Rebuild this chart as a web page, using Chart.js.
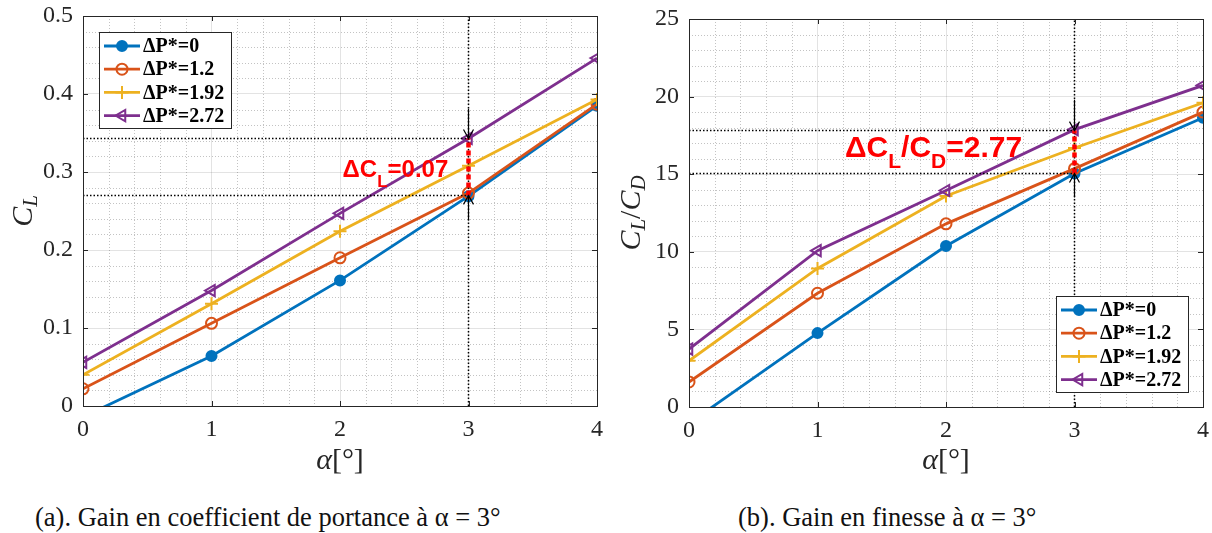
<!DOCTYPE html>
<html>
<head>
<meta charset="utf-8">
<script src="https://cdn.jsdelivr.net/npm/chart.js@4.4.1/dist/chart.umd.min.js"></script>
<style>
  body { margin: 0; background: #fff; width: 1212px; height: 533px; position: relative; overflow: hidden; }
  canvas { position: absolute; top: 0; }
  .caption { position: absolute; top: 502px; font: 26.5px "Liberation Serif", "Times New Roman", serif; color: #111; white-space: nowrap; }
</style>
</head>
<body>
<canvas id="chartCL" width="606" height="480" style="left:0"></canvas>
<canvas id="chartFinesse" width="606" height="480" style="left:606px"></canvas>
<div class="caption" style="left:35px">(a). Gain en coefficient de portance à α = 3°</div>
<div class="caption" style="left:738px">(b). Gain en finesse à α = 3°</div>
<script>
// données
const alpha = [0, 1, 2, 3, 4];
const seriesLabels = ['ΔP*=0', 'ΔP*=1.2', 'ΔP*=1.92', 'ΔP*=2.72'];

// coefficient de portance C_L
const clP0 = [-0.014, 0.064, 0.161, 0.269, 0.385];
const clP12 = [0.022, 0.106, 0.190, 0.273, 0.387];
const clP192 = [0.040, 0.131, 0.224, 0.308, 0.393];
const clP272 = [0.056, 0.148, 0.247, 0.343, 0.446];

// finesse C_L/C_D
const finP0 = [-1.05, 4.76, 10.37, 15.04, 18.64];
const finP12 = [1.61, 7.33, 11.80, 15.36, 19.00];
const finP192 = [2.98, 8.93, 13.60, 16.69, 19.60];
const finP272 = [3.73, 10.07, 13.95, 17.87, 20.72];

// annotations à alpha = 3
const alphaRef = 3;
const clBracket = [0.27, 0.343];
const clArrowFrom = [0.381, 0.238];
const finBracket = [15.04, 17.81];
const finArrowFrom = [19.8, 13.5];

const colors = ['#0072BD', '#D95319', '#EDB120', '#7E2F8E'];
const markers = [
  { pointStyle: 'circle', radius: 5, fill: '#0072BD', rotation: 0 },
  { pointStyle: 'circle', radius: 5.5, fill: 'rgba(255,255,255,0)', rotation: 0 },
  { pointStyle: 'cross', radius: 6.5, fill: 'rgba(255,255,255,0)', rotation: 0 },
  { pointStyle: 'triangle', radius: 6.5, fill: 'rgba(255,255,255,0)', rotation: -90 }
];
const LINE_W = 2.8;
const AXIS = '#262626';
const SERIF = '"Liberation Serif", "Times New Roman", serif';

function pts(ys) {
  return alpha.map((a, i) => ({ x: a, y: ys[i] }));
}

function seg(x0, y0, x1, y1) {
  return [{ x: x0, y: y0 }, { x: x1, y: y1 }];
}

function drawRich(ctx, x, y, parts) {
  let cx = x;
  parts.forEach(p => {
    ctx.font = p.f;
    ctx.fillText(p.t, cx, y + (p.dy || 0));
    cx += ctx.measureText(p.t).width;
  });
  return cx - x;
}

function richWidth(ctx, parts) {
  let w = 0;
  parts.forEach(p => { ctx.font = p.f; w += ctx.measureText(p.t).width; });
  return w;
}

function drawMarker(ctx, m, x, y, color) {
  ctx.save();
  ctx.strokeStyle = color;
  ctx.fillStyle = m.fill;
  ctx.lineWidth = 2;
  ctx.beginPath();
  if (m.pointStyle === 'circle') {
    ctx.arc(x, y, m.radius, 0, Math.PI * 2);
    ctx.fill();
    ctx.stroke();
  } else if (m.pointStyle === 'cross') {
    ctx.moveTo(x - m.radius, y); ctx.lineTo(x + m.radius, y);
    ctx.moveTo(x, y - m.radius); ctx.lineTo(x, y + m.radius);
    ctx.stroke();
  } else {
    const r = m.radius;
    ctx.moveTo(x - r, y);
    ctx.lineTo(x + r * 0.5, y - r * 0.87);
    ctx.lineTo(x + r * 0.5, y + r * 0.87);
    ctx.closePath();
    ctx.stroke();
  }
  ctx.restore();
}

function makeChart(id, series, cfg) {
  const datasets = series.map((ys, i) => ({
    label: seriesLabels[i],
    data: pts(ys),
    borderColor: colors[i],
    borderWidth: LINE_W,
    pointStyle: markers[i].pointStyle,
    pointRadius: markers[i].radius,
    pointRotation: markers[i].rotation,
    pointBackgroundColor: markers[i].fill,
    pointBorderColor: colors[i],
    pointBorderWidth: 2,
    order: 10 - i,
    tension: 0
  }));

  const [lo, hi] = cfg.bracket;
  const dotted = { borderColor: '#000', borderWidth: 1.5, borderDash: [1.5, 2], pointRadius: 0, order: 1 };
  datasets.push({ ...dotted, label: 'hlo', data: seg(0, lo, alphaRef, lo) });
  datasets.push({ ...dotted, label: 'hhi', data: seg(0, hi, alphaRef, hi) });
  datasets.push({ ...dotted, label: 'vref', data: seg(alphaRef, cfg.yMin, alphaRef, cfg.yMax) });
  datasets.push({ label: 'delta', data: seg(alphaRef, lo, alphaRef, hi), borderColor: '#FF0000', borderWidth: 4.5, borderDash: [5, 3], pointRadius: 0, order: 0 });
  const arrowStart = datasets.length;
  datasets.push({ label: 'arrDown', data: seg(alphaRef, cfg.arrowFrom[0], alphaRef, hi), borderColor: '#000', borderWidth: 1.2, pointRadius: 0, order: 0 });
  datasets.push({ label: 'arrUp', data: seg(alphaRef, cfg.arrowFrom[1], alphaRef, lo), borderColor: '#000', borderWidth: 1.2, pointRadius: 0, order: 0 });

  const decor = {
    id: 'matlabDecor',
    beforeDatasetsDraw(chart) {
      const { ctx, chartArea: a, scales: { x, y } } = chart;
      ctx.save();
      ctx.strokeStyle = 'rgba(38,38,38,0.28)';
      ctx.lineWidth = 1;
      ctx.setLineDash([1, 2]);
      ctx.beginPath();
      for (let k = 1; k < 20; k++) {
        if (k % 5 === 0) continue;
        const px = Math.round(x.getPixelForValue(k * 0.2)) + 0.5;
        ctx.moveTo(px, a.top); ctx.lineTo(px, a.bottom);
      }
      const n = Math.round((cfg.yMax - cfg.yMin) / cfg.yMinor);
      const per = Math.round(cfg.yStep / cfg.yMinor);
      for (let k = 1; k < n; k++) {
        if (k % per === 0) continue;
        const py = Math.round(y.getPixelForValue(cfg.yMin + k * cfg.yMinor)) + 0.5;
        ctx.moveTo(a.left, py); ctx.lineTo(a.right, py);
      }
      ctx.stroke();
      ctx.restore();
    },
    afterDatasetsDraw(chart) {
      const { ctx, chartArea: a, scales: { x, y } } = chart;
      ctx.save();
      // cadre et graduations vers l'intérieur
      ctx.strokeStyle = AXIS;
      ctx.lineWidth = 1;
      ctx.setLineDash([]);
      ctx.strokeRect(Math.round(a.left) + 0.5, Math.round(a.top) + 0.5, Math.round(a.right - a.left), Math.round(a.bottom - a.top));
      ctx.beginPath();
      x.ticks.forEach(t => {
        const px = Math.round(x.getPixelForValue(t.value)) + 0.5;
        ctx.moveTo(px, a.bottom); ctx.lineTo(px, a.bottom - 5);
        ctx.moveTo(px, a.top); ctx.lineTo(px, a.top + 5);
      });
      y.ticks.forEach(t => {
        const py = Math.round(y.getPixelForValue(t.value)) + 0.5;
        ctx.moveTo(a.left, py); ctx.lineTo(a.left + 5, py);
        ctx.moveTo(a.right, py); ctx.lineTo(a.right - 5, py);
      });
      ctx.stroke();

      // pointes de flèches
      ctx.strokeStyle = '#000';
      ctx.lineWidth = 1.2;
      [arrowStart, arrowStart + 1].forEach(di => {
        const p = chart.getDatasetMeta(di).data;
        const dir = Math.sign(p[1].y - p[0].y);
        ctx.beginPath();
        ctx.moveTo(p[1].x - 5, p[1].y - dir * 9);
        ctx.lineTo(p[1].x, p[1].y);
        ctx.lineTo(p[1].x + 5, p[1].y - dir * 9);
        ctx.stroke();
      });

      // texte de l'écart
      ctx.fillStyle = '#FF0000';
      ctx.textBaseline = 'alphabetic';
      ctx.textAlign = 'left';
      drawRich(ctx, x.getPixelForValue(cfg.note.x), y.getPixelForValue(cfg.note.y), cfg.note.parts);

      // légende
      const lw = 132, lh = 96, rowH = 23.2;
      const lx = cfg.legendCorner === 'nw' ? a.left + 16 : a.right - 15 - lw;
      const ly = cfg.legendCorner === 'nw' ? a.top + 16 : a.bottom - 15 - lh;
      ctx.fillStyle = '#fff';
      ctx.fillRect(lx, ly, lw, lh);
      ctx.strokeStyle = AXIS;
      ctx.lineWidth = 1;
      ctx.strokeRect(Math.round(lx) + 0.5, Math.round(ly) + 0.5, lw, lh);
      seriesLabels.forEach((lab, i) => {
        const cy = ly + 14 + i * rowH;
        ctx.strokeStyle = colors[i];
        ctx.lineWidth = LINE_W;
        ctx.beginPath();
        ctx.moveTo(lx + 5, cy); ctx.lineTo(lx + 41, cy);
        ctx.stroke();
        drawMarker(ctx, markers[i], lx + 23, cy, colors[i]);
        ctx.fillStyle = '#000';
        ctx.font = 'bold 20px ' + SERIF;
        ctx.textBaseline = 'middle';
        ctx.fillText(lab, lx + 44, cy + 1);
      });

      // titres des axes
      ctx.fillStyle = '#262626';
      ctx.textBaseline = 'alphabetic';
      const xParts = [
        { t: 'α', f: 'italic 30px ' + SERIF },
        { t: '[°]', f: '30px ' + SERIF }
      ];
      const cxm = (a.left + a.right) / 2;
      drawRich(ctx, cxm - richWidth(ctx, xParts) / 2, 469, xParts);
      const cym = (a.top + a.bottom) / 2;
      ctx.translate(cfg.yTitleX, cym);
      ctx.rotate(-Math.PI / 2);
      drawRich(ctx, -richWidth(ctx, cfg.yTitle) / 2, 0, cfg.yTitle);
      ctx.restore();
    }
  };

  // graduations extérieures invisibles : elles écartent les libellés sans gonfler la marge
  const gridOpts = { color: 'rgba(38,38,38,0.13)', drawTicks: true, tickColor: 'rgba(0,0,0,0)' };

  return new Chart(document.getElementById(id), {
    type: 'line',
    data: { datasets },
    options: {
      responsive: false,
      animation: false,
      devicePixelRatio: 1,
      layout: { padding: { left: 0, right: 9, top: cfg.top, bottom: 0 } },
      plugins: { legend: { display: false }, tooltip: { enabled: false } },
      scales: {
        x: {
          type: 'linear', min: 0, max: 4,
          ticks: { stepSize: 1, padding: 0, color: AXIS, font: { family: SERIF, size: 24 } },
          grid: { ...gridOpts, tickLength: 9 },
          border: { display: false },
          afterFit(s) { s.height = cfg.xHeight; }
        },
        y: {
          min: cfg.yMin, max: cfg.yMax,
          ticks: { stepSize: cfg.yStep, padding: 0, color: AXIS, font: { family: SERIF, size: 24 }, callback: cfg.fmt },
          grid: { ...gridOpts, tickLength: 10 },
          border: { display: false },
          afterFit(s) { s.width = 83; }
        }
      }
    },
    plugins: [decor]
  });
}

const SANS = '"Liberation Sans", Arial, sans-serif';
const SANS24 = 'bold 24px ' + SANS;
const SUB24 = 'bold 17px ' + SANS;
const SANS30 = 'bold 30px ' + SANS;
const SUB30 = 'bold 21px ' + SANS;

makeChart('chartCL', [clP0, clP12, clP192, clP272], {
  yMin: 0, yMax: 0.5, yStep: 0.1, yMinor: 0.02, top: 16, xHeight: 74,
  fmt: v => Number(v.toFixed(1)).toString(),
  bracket: clBracket, arrowFrom: clArrowFrom, legendCorner: 'nw', yTitleX: 32,
  yTitle: [
    { t: 'C', f: 'italic 30px ' + SERIF },
    { t: 'L', f: 'italic 21px ' + SERIF, dy: 5 }
  ],
  note: {
    x: 2.02, y: 0.2936,
    parts: [
      { t: 'ΔC', f: SANS24 },
      { t: 'L', f: SUB24, dy: 10 },
      { t: '=0.07', f: SANS24 }
    ]
  }
});

makeChart('chartFinesse', [finP0, finP12, finP192, finP272], {
  yMin: 0, yMax: 25, yStep: 5, yMinor: 1, top: 19, xHeight: 73,
  fmt: v => v.toString(),
  bracket: finBracket, arrowFrom: finArrowFrom, legendCorner: 'se', yTitleX: 34,
  yTitle: [
    { t: 'C', f: 'italic 30px ' + SERIF },
    { t: 'L', f: 'italic 21px ' + SERIF, dy: 5 },
    { t: '/', f: '30px ' + SERIF },
    { t: 'C', f: 'italic 30px ' + SERIF },
    { t: 'D', f: 'italic 21px ' + SERIF, dy: 5 }
  ],
  note: {
    x: 1.214, y: 16.11,
    parts: [
      { t: 'ΔC', f: SANS30 },
      { t: 'L', f: SUB30, dy: 11 },
      { t: '/C', f: SANS30 },
      { t: 'D', f: SUB30, dy: 11 },
      { t: '=2.77', f: SANS30 }
    ]
  }
});
</script>
</body>
</html>
